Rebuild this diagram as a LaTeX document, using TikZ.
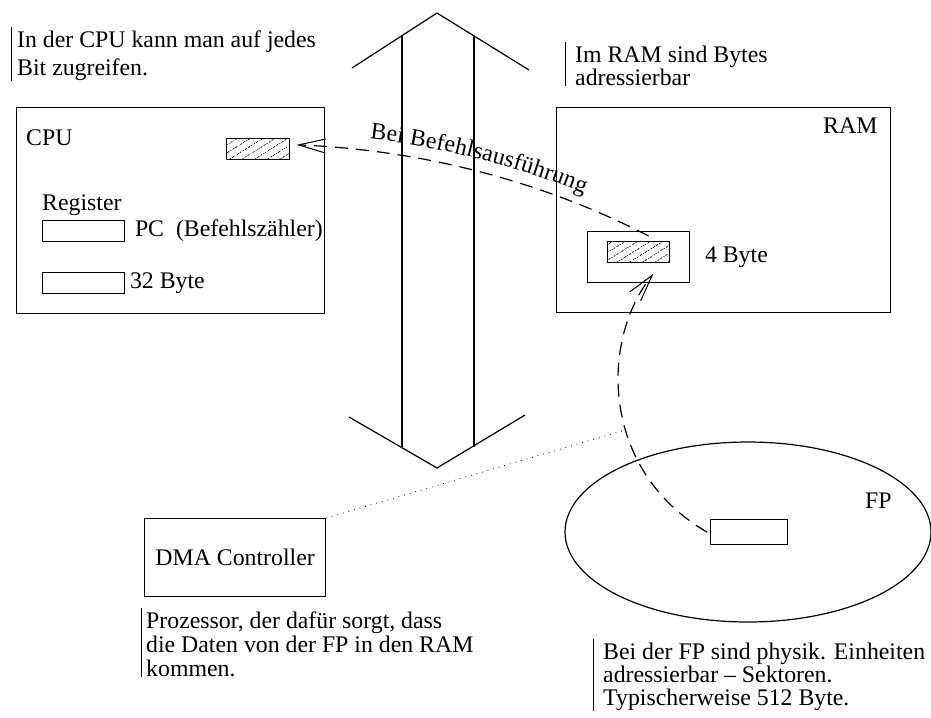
\documentclass[tikz,border=0pt]{standalone}
\usepackage{fontspec}
\setmainfont{Liberation Serif}
\usetikzlibrary{arrows.meta,patterns.meta,decorations.text,shapes.geometric,positioning}

\tikzset{
  box/.style={draw, line width=1.2pt, inner sep=0pt, anchor=north west},
  cell/.style={draw, line width=0.8pt, inner sep=0pt, anchor=north west},
  hatched/.style={cell, line width=1.2pt, pattern={Lines[angle=32,distance=6.5pt,line width=0.6pt]}},
  lbl/.style={inner sep=0pt},
  note/.style={inner sep=0pt, anchor=north west, align=left, font=\fontsize{23.8}{#1}\selectfont},
  bus/.style={line width=1.2pt},
  flow/.style={line width=1.2pt, dash pattern=on 13pt off 8pt,
    -{Straight Barb[length=27pt,width=14pt,line width=1pt]}},
  every node/.append style={font=\fontsize{23.8}{25}\selectfont}
}
\newcommand{\notebar}[2]{\draw[line width=0.6pt] ([xshift=-#2,yshift=4pt]#1.north west) -- ([xshift=-#2]#1.south west);}

\begin{document}
\begin{tikzpicture}[x=1pt,y=-1pt]
\useasboundingbox (0,0) rectangle (931,717);

% CPU
\node[box, minimum width=308pt, minimum height=206pt] (cpu) at (16,107) {};
\node[lbl, anchor=base west] at (26,145) {CPU};
\node[hatched, minimum width=63pt, minimum height=21pt] (cpubit) at (226,138) {};
\node[lbl, anchor=base west] at (42,210) {Register};
\node[cell, minimum width=82pt, minimum height=21pt] (pcreg) at (42,220) {};
\node[lbl, right=10pt of pcreg] {PC~ (Befehlszähler)};
\node[cell, minimum width=82pt, minimum height=21pt] (genreg) at (42,272) {};
\node[lbl, right=5pt of genreg] {32 Byte};

% RAM
\node[box, minimum width=334pt, minimum height=205pt] (ram) at (556,107) {};
\node[lbl, anchor=base west] at (823,133) {RAM};
\node[cell, minimum width=102pt, minimum height=51pt] (ramslot) at (587,231) {};
\node[hatched, minimum width=62pt, minimum height=21pt] (ramword) at (607,241) {};
\node[lbl, right=15pt of ramslot] {4 Byte};

% Bus
\draw[bus] (352,68) -- (437,13) -- (529,70);
\draw[bus] (349,417) -- (437,468) -- (525,415);
\draw[bus] (402,35) -- (402,447);
\draw[bus] (474,35) -- (474,447);

% FP und DMA
\node[draw, ellipse, line width=1.2pt, minimum width=366pt, minimum height=180pt] (fp) at (748,532) {};
\node[lbl, anchor=base west] at (865,508) {FP};
\node[box, minimum width=77pt, minimum height=25pt] (sector) at (710,519) {};
\node[box, minimum width=181pt, minimum height=78pt] (dma) at (144,518) {DMA Controller};

% Transfers
\draw[flow] ([xshift=10pt,yshift=5pt]ramword.north) .. controls (540,180) and (420,150) .. ([xshift=7pt,yshift=4pt]cpubit.east);
\path[decorate, decoration={text along path, raise=12pt, text align={left indent=72pt},
  text={|\fontsize{23.8}{25}\selectfont|Bei Befehlsausführung}}]
  ([xshift=7pt,yshift=4pt]cpubit.east) .. controls (420,150) and (540,180) .. ([xshift=10pt,yshift=5pt]ramword.north);
\draw[flow] ([xshift=-3pt]sector.west) .. controls (600,470) and (600,340) .. ([xshift=15pt,yshift=9pt]ramslot.south);
\coordinate (tap) at (622,431);
\draw[line width=0.8pt, dash pattern=on 0.8pt off 5pt] (dma.north east) -- (tap);

% Notes
\node[note=27.7] (cpunote) at (17,31) {In der CPU kann man auf jedes\\Bit zugreifen.};
\notebar{cpunote}{6pt}
\node[note=21.6] (ramnote) at (575,46) {Im RAM sind Bytes\\adressierbar};
\notebar{ramnote}{10pt}
\node[note=23.8] (dmanote) at (146,612) {Prozessor, der dafür sorgt, dass\\die Daten von der FP in den RAM\\kommen.};
\notebar{dmanote}{5pt}
\node[note=23] (fpnote) at (603,643) {Bei der FP sind physik. Einheiten\\adressierbar -- Sektoren.\\Typischerweise 512 Byte.};
\notebar{fpnote}{10pt}
\end{tikzpicture}
\end{document}
